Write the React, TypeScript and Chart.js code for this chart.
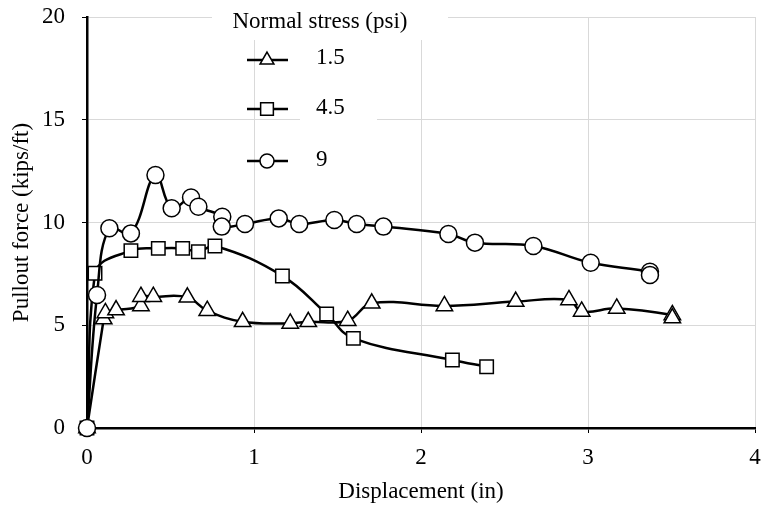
import { useEffect, useRef } from 'react';
import { Chart, registerables } from 'chart.js';

Chart.register(...registerables);

// Pullout force vs. displacement for three normal stress levels
const legendTitle = 'Normal stress (psi)';
const seriesLabels = ['1.5', '4.5', '9'];

const dispLow = [0, 0.1, 0.11, 0.174, 0.323, 0.323, 0.397, 0.601, 0.72, 0.932, 1.217, 1.325, 1.561, 1.705, 2.14, 2.567, 2.886, 2.962, 3.172, 3.505, 3.505];
const forceLow = [0, 5.3, 5.6, 5.74, 5.94, 6.39, 6.39, 6.36, 5.71, 5.17, 5.09, 5.17, 5.22, 6.07, 5.94, 6.15, 6.23, 5.67, 5.82, 5.5, 5.35];

const dispMid = [0, 0.048, 0.263, 0.427, 0.573, 0.667, 0.766, 1.17, 1.435, 1.595, 2.188, 2.393];
const forceMid = [0, 7.53, 8.63, 8.74, 8.74, 8.58, 8.86, 7.4, 5.55, 4.36, 3.31, 2.98];

const dispHigh = [0, 0.06, 0.134, 0.263, 0.41, 0.507, 0.623, 0.667, 0.81, 0.807, 0.946, 1.148, 1.271, 1.481, 1.615, 1.775, 2.164, 2.323, 2.673, 3.016, 3.371, 3.371];
const forceHigh = [0, 6.47, 9.72, 9.47, 12.31, 10.69, 11.22, 10.77, 10.28, 9.8, 9.93, 10.2, 9.93, 10.12, 9.93, 9.8, 9.44, 9.02, 8.86, 8.04, 7.6, 7.45];

const xTicks = [0, 1, 2, 3, 4];
const yTicks = [0, 5, 10, 15, 20];

const FONT = '"Liberation Serif", "Times New Roman", serif';
const FONT_SIZE = 23;

const toPoints = (xs: number[], ys: number[]) => xs.map((x, i) => ({ x, y: ys[i] }));

function drawMarker(ctx: CanvasRenderingContext2D, style: string, x: number, y: number, r: number) {
  ctx.beginPath();
  if (style === 'circle') {
    ctx.arc(x, y, r, 0, Math.PI * 2);
  } else if (style === 'rect') {
    const s = r * Math.SQRT1_2;
    ctx.rect(x - s, y - s, 2 * s, 2 * s);
  } else {
    const a = (2 * Math.PI) / 3;
    ctx.moveTo(x, y - r);
    ctx.lineTo(x + Math.sin(a) * r, y - Math.cos(a) * r);
    ctx.lineTo(x - Math.sin(a) * r, y - Math.cos(a) * r);
    ctx.closePath();
  }
  ctx.fillStyle = '#ffffff';
  ctx.fill();
  ctx.lineWidth = 1.5;
  ctx.strokeStyle = '#000000';
  ctx.stroke();
}

const legendPlugin = {
  id: 'stressLegend',
  afterDatasetsDraw(chart: Chart) {
    const ctx = chart.ctx;
    ctx.save();
    // white backing behind legend text
    ctx.fillStyle = '#ffffff';
    ctx.fillRect(212, 0, 236, 40);
    ctx.fillRect(300, 40, 77, 135);

    ctx.font = `${FONT_SIZE}px ${FONT}`;
    ctx.fillStyle = '#000000';
    ctx.textBaseline = 'middle';
    ctx.textAlign = 'center';
    ctx.fillText(legendTitle, 320, 22);

    const styles = ['triangle', 'rect', 'circle'];
    const rowY = [60, 109, 161];
    const labelY = [58, 108, 160];
    const radii = [8, 9, 7];
    styles.forEach((st, i) => {
      ctx.beginPath();
      ctx.moveTo(247, rowY[i]);
      ctx.lineTo(288, rowY[i]);
      ctx.lineWidth = 2.5;
      ctx.strokeStyle = '#000000';
      ctx.stroke();
      drawMarker(ctx, st, 267, rowY[i], radii[i]);
      ctx.fillStyle = '#000000';
      ctx.textAlign = 'left';
      ctx.fillText(seriesLabels[i], 316, labelY[i]);
    });
    ctx.restore();
  },
};

export default function App() {
  const canvasRef = useRef<HTMLCanvasElement | null>(null);

  useEffect(() => {
    const canvas = canvasRef.current;
    if (!canvas) return;
    const common = {
      borderColor: '#000000',
      borderWidth: 2.5,
      pointBackgroundColor: '#ffffff',
      pointBorderColor: '#000000',
      pointBorderWidth: 1.5,
      tension: 0.4,
      clip: false as const,
      showLine: true,
    };
    const chart = new Chart(canvas, {
      type: 'scatter',
      data: {
        datasets: [
          { ...common, label: seriesLabels[0], data: toPoints(dispLow, forceLow), pointStyle: 'triangle', pointRadius: 9.5, order: 2 },
          { ...common, label: seriesLabels[1], data: toPoints(dispMid, forceMid), pointStyle: 'rect', pointRadius: 9.5, order: 1 },
          { ...common, label: seriesLabels[2], data: toPoints(dispHigh, forceHigh), pointStyle: 'circle', pointRadius: 8.5, order: 0 },
        ],
      },
      options: {
        animation: false,
        responsive: false,
        devicePixelRatio: 1,
        layout: { padding: { left: 0, right: 12, top: 17, bottom: 0 } },
        plugins: { legend: { display: false }, tooltip: { enabled: false } },
        scales: {
          x: {
            type: 'linear',
            min: 0,
            max: 4,
            afterBuildTicks: (scale: any) => {
              scale.ticks = xTicks.map((v) => ({ value: v }));
            },
            afterFit: (scale: any) => {
              scale.height = 86;
              scale.paddingLeft = 0;
              scale.paddingRight = 0;
            },
            grid: { color: '#d9d9d9', lineWidth: 1, tickLength: 5, tickColor: '#000000' },
            border: { color: '#000000', width: 2.5 },
            ticks: { color: '#000000', font: { family: FONT, size: FONT_SIZE }, padding: 11, maxRotation: 0 },
            title: {
              display: true,
              text: 'Displacement (in)',
              color: '#000000',
              font: { family: FONT, size: FONT_SIZE },
              padding: { top: 0, bottom: 8 },
            },
          },
          y: {
            type: 'linear',
            min: 0,
            max: 20,
            afterBuildTicks: (scale: any) => {
              scale.ticks = yTicks.map((v) => ({ value: v }));
            },
            afterFit: (scale: any) => {
              scale.width = 87;
              scale.paddingTop = 0;
              scale.paddingBottom = 0;
            },
            grid: { color: '#d9d9d9', lineWidth: 1, tickLength: 5, tickColor: '#000000' },
            border: { color: '#000000', width: 2.5 },
            ticks: { color: '#000000', font: { family: FONT, size: FONT_SIZE }, padding: 17 },
            title: {
              display: true,
              text: 'Pullout force (kips/ft)',
              color: '#000000',
              font: { family: FONT, size: FONT_SIZE },
              padding: { top: 8, bottom: 0 },
            },
          },
        },
      },
      plugins: [legendPlugin],
    });
    return () => chart.destroy();
  }, []);

  return (
    <div style={{ position: 'absolute', left: 0, top: 0, width: 767, height: 514, background: '#ffffff' }}>
      <canvas ref={canvasRef} width={767} height={514} />
    </div>
  );
}
